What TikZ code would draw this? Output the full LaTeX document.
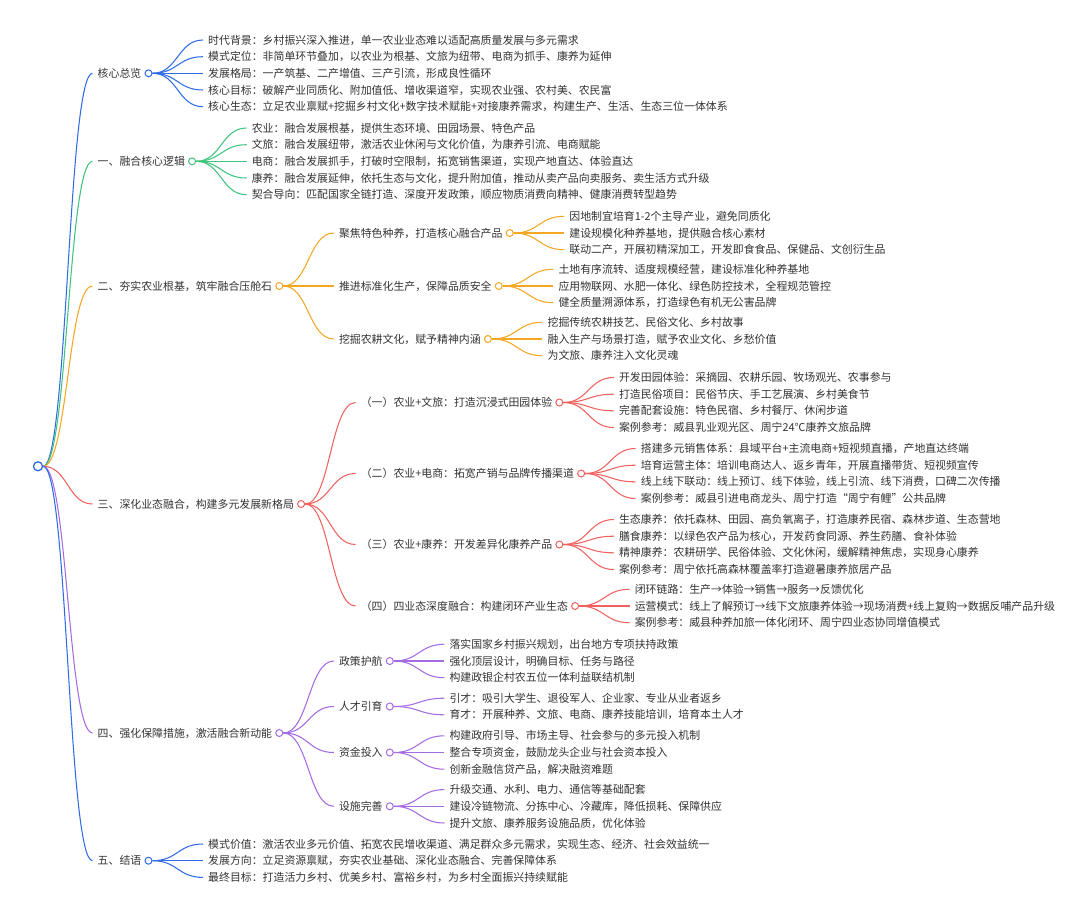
\documentclass[tikz,border=0pt]{standalone}
\usepackage{fontspec}
\setmainfont{Noto Sans CJK SC}
\usetikzlibrary{calc}
\definecolor{cblue}{HTML}{2F6CE5}
\definecolor{cgreen}{HTML}{3EC47C}
\definecolor{corange}{HTML}{F5A623}
\definecolor{cred}{HTML}{F0625F}
\definecolor{cpurple}{HTML}{A56BE3}
\definecolor{textgray}{HTML}{333333}
\tikzset{
  txt/.style={anchor=west, inner sep=0pt, text=textgray, font=\fontsize{10.9pt}{13pt}\selectfont},
  dot/.style={circle, draw=#1, fill=white, line width=1pt, minimum size=7pt, inner sep=0pt, anchor=west},
  ln/.style={draw=#1, line width=1.05pt},
}
\newcommand\mmlink[3]{\draw[ln=#1] let \p1=(#2), \p2=(#3) in (\p1) .. controls (\x1/2+\x2/2,\y1) and (\x1/2+\x2/2,\y2) .. (\p2);}
\newcommand\mmleaf[5]{%
  \path let \p1=(#2c.center) in node[txt] (#1) at (\x1+59.5pt,-#4pt) {#5};
  \mmlink{#3}{#2c.east}{[xshift=-5pt]#1.west}}
\newcommand\mmhub[5]{%
  \mmleaf{#1}{#2}{#3}{#4}{#5}
  \node[dot=#3] (#1c) at ([xshift=3pt]#1.east) {};}
\begin{document}
\begin{tikzpicture}
\fill[white] (0pt,0pt) rectangle (1080pt,-916pt);
\useasboundingbox (0pt,0pt) rectangle (1080pt,-916pt);
\node[dot=cblue, minimum size=9pt, line width=1.3pt, anchor=center] (Rc) at (38pt,-466.3pt) {};

% ---- 核心总览
\mmhub{A}{R}{cblue}{73.3}{核心总览}
\mmleaf{A1}{A}{cblue}{40}{时代背景：乡村振兴深入推进，单一农业业态难以适配高质量发展与多元需求}
\mmleaf{A2}{A}{cblue}{56.7}{模式定位：非简单环节叠加，以农业为根基、文旅为纽带、电商为抓手、康养为延伸}
\mmleaf{A3}{A}{cblue}{73.3}{发展格局：一产筑基、二产增值、三产引流，形成良性循环}
\mmleaf{A4}{A}{cblue}{90}{核心目标：破解产业同质化、附加值低、增收渠道窄，实现农业强、农村美、农民富}
\mmleaf{A5}{A}{cblue}{106.7}{核心生态：立足农业禀赋+挖掘乡村文化+数字技术赋能+对接康养需求，构建生产、生活、生态三位一体体系}

% ---- 一
\mmhub{B}{R}{cgreen}{161.3}{一、融合核心逻辑}
\mmleaf{B1}{B}{cgreen}{128}{农业：融合发展根基，提供生态环境、田园场景、特色产品}
\mmleaf{B2}{B}{cgreen}{144.7}{文旅：融合发展纽带，激活农业休闲与文化价值，为康养引流、电商赋能}
\mmleaf{B3}{B}{cgreen}{161.3}{电商：融合发展抓手，打破时空限制，拓宽销售渠道，实现产地直达、体验直达}
\mmleaf{B4}{B}{cgreen}{178}{康养：融合发展延伸，依托生态与文化，提升附加值，推动从卖产品向卖服务、卖生活方式升级}
\mmleaf{B5}{B}{cgreen}{194.7}{契合导向：匹配国家全链打造、深度开发政策，顺应物质消费向精神、健康消费转型趋势}

% ---- 二
\mmhub{C}{R}{corange}{286}{二、夯实农业根基，筑牢融合压舱石}
\mmhub{C1}{C}{corange}{233}{聚焦特色种养，打造核心融合产品}
\mmleaf{C11}{C1}{corange}{216.3}{因地制宜培育1-2个主导产业，避免同质化}
\mmleaf{C12}{C1}{corange}{233}{建设规模化种养基地，提供融合核心素材}
\mmleaf{C13}{C1}{corange}{249.7}{联动二产，开展初精深加工，开发即食食品、保健品、文创衍生品}
\mmhub{C2}{C}{corange}{286}{推进标准化生产，保障品质安全}
\mmleaf{C21}{C2}{corange}{269.3}{土地有序流转、适度规模经营，建设标准化种养基地}
\mmleaf{C22}{C2}{corange}{286}{应用物联网、水肥一体化、绿色防控技术，全程规范管控}
\mmleaf{C23}{C2}{corange}{302.7}{健全质量溯源体系，打造绿色有机无公害品牌}
\mmhub{C3}{C}{corange}{339}{挖掘农耕文化，赋予精神内涵}
\mmleaf{C31}{C3}{corange}{322.3}{挖掘传统农耕技艺、民俗文化、乡村故事}
\mmleaf{C32}{C3}{corange}{339}{融入生产与场景打造，赋予农业文化、乡愁价值}
\mmleaf{C33}{C3}{corange}{355.7}{为文旅、康养注入文化灵魂}

% ---- 三
\mmhub{D}{R}{cred}{504}{三、深化业态融合，构建多元发展新格局}
\mmhub{D1}{D}{cred}{402.5}{（一）农业+文旅：打造沉浸式田园体验}
\mmleaf{D11}{D1}{cred}{377.5}{开发田园体验：采摘园、农耕乐园、牧场观光、农事参与}
\mmleaf{D12}{D1}{cred}{394.2}{打造民俗项目：民俗节庆、手工艺展演、乡村美食节}
\mmleaf{D13}{D1}{cred}{410.8}{完善配套设施：特色民宿、乡村餐厅、休闲步道}
\mmleaf{D14}{D1}{cred}{427.5}{案例参考：威县乳业观光区、周宁24℃康养文旅品牌}
\mmhub{D2}{D}{cred}{473.5}{（二）农业+电商：拓宽产销与品牌传播渠道}
\mmleaf{D21}{D2}{cred}{448.5}{搭建多元销售体系：县域平台+主流电商+短视频直播，产地直达终端}
\mmleaf{D22}{D2}{cred}{465.2}{培育运营主体：培训电商达人、返乡青年，开展直播带货、短视频宣传}
\mmleaf{D23}{D2}{cred}{481.8}{线上线下联动：线上预订、线下体验，线上引流、线下消费，口碑二次传播}
\mmleaf{D24}{D2}{cred}{498.5}{案例参考：威县引进电商龙头、周宁打造“周宁有鲤”公共品牌}
\mmhub{D3}{D}{cred}{544.5}{（三）农业+康养：开发差异化康养产品}
\mmleaf{D31}{D3}{cred}{519.5}{生态康养：依托森林、田园、高负氧离子，打造康养民宿、森林步道、生态营地}
\mmleaf{D32}{D3}{cred}{536.2}{膳食康养：以绿色农产品为核心，开发药食同源、养生药膳、食补体验}
\mmleaf{D33}{D3}{cred}{552.8}{精神康养：农耕研学、民俗体验、文化休闲，缓解精神焦虑，实现身心康养}
\mmleaf{D34}{D3}{cred}{569.5}{案例参考：周宁依托高森林覆盖率打造避暑康养旅居产品}
\mmhub{D4}{D}{cred}{606}{（四）四业态深度融合：构建闭环产业生态}
\mmleaf{D41}{D4}{cred}{589.3}{闭环链路：生产→体验→销售→服务→反馈优化}
\mmleaf{D42}{D4}{cred}{606}{运营模式：线上了解预订→线下文旅康养体验→现场消费+线上复购→数据反哺产品升级}
\mmleaf{D43}{D4}{cred}{622.7}{案例参考：威县种养加旅一体化闭环、周宁四业态协同增值模式}

% ---- 四
\mmhub{E}{R}{cpurple}{733}{四、强化保障措施，激活融合新动能}
\mmhub{E1}{E}{cpurple}{661}{政策护航}
\mmleaf{E11}{E1}{cpurple}{644.3}{落实国家乡村振兴规划，出台地方专项扶持政策}
\mmleaf{E12}{E1}{cpurple}{661}{强化顶层设计，明确目标、任务与路径}
\mmleaf{E13}{E1}{cpurple}{677.7}{构建政银企村农五位一体利益联结机制}
\mmhub{E2}{E}{cpurple}{706.5}{人才引育}
\mmleaf{E21}{E2}{cpurple}{698.2}{引才：吸引大学生、退役军人、企业家、专业从业者返乡}
\mmleaf{E22}{E2}{cpurple}{714.8}{育才：开展种养、文旅、电商、康养技能培训，培育本土人才}
\mmhub{E3}{E}{cpurple}{752.5}{资金投入}
\mmleaf{E31}{E3}{cpurple}{735.8}{构建政府引导、市场主导、社会参与的多元投入机制}
\mmleaf{E32}{E3}{cpurple}{752.5}{整合专项资金，鼓励龙头企业与社会资本投入}
\mmleaf{E33}{E3}{cpurple}{769.2}{创新金融信贷产品，解决融资难题}
\mmhub{E4}{E}{cpurple}{806.3}{设施完善}
\mmleaf{E41}{E4}{cpurple}{789.6}{升级交通、水利、电力、通信等基础配套}
\mmleaf{E42}{E4}{cpurple}{806.3}{建设冷链物流、分拣中心、冷藏库，降低损耗、保障供应}
\mmleaf{E43}{E4}{cpurple}{823}{提升文旅、康养服务设施品质，优化体验}

% ---- 五
\mmhub{F}{R}{cblue}{860.7}{五、结语}
\mmleaf{F1}{F}{cblue}{844}{模式价值：激活农业多元价值、拓宽农民增收渠道、满足群众多元需求，实现生态、经济、社会效益统一}
\mmleaf{F2}{F}{cblue}{860.7}{发展方向：立足资源禀赋，夯实农业基础、深化业态融合、完善保障体系}
\mmleaf{F3}{F}{cblue}{877.4}{最终目标：打造活力乡村、优美乡村、富裕乡村，为乡村全面振兴持续赋能}
\end{tikzpicture}
\end{document}
